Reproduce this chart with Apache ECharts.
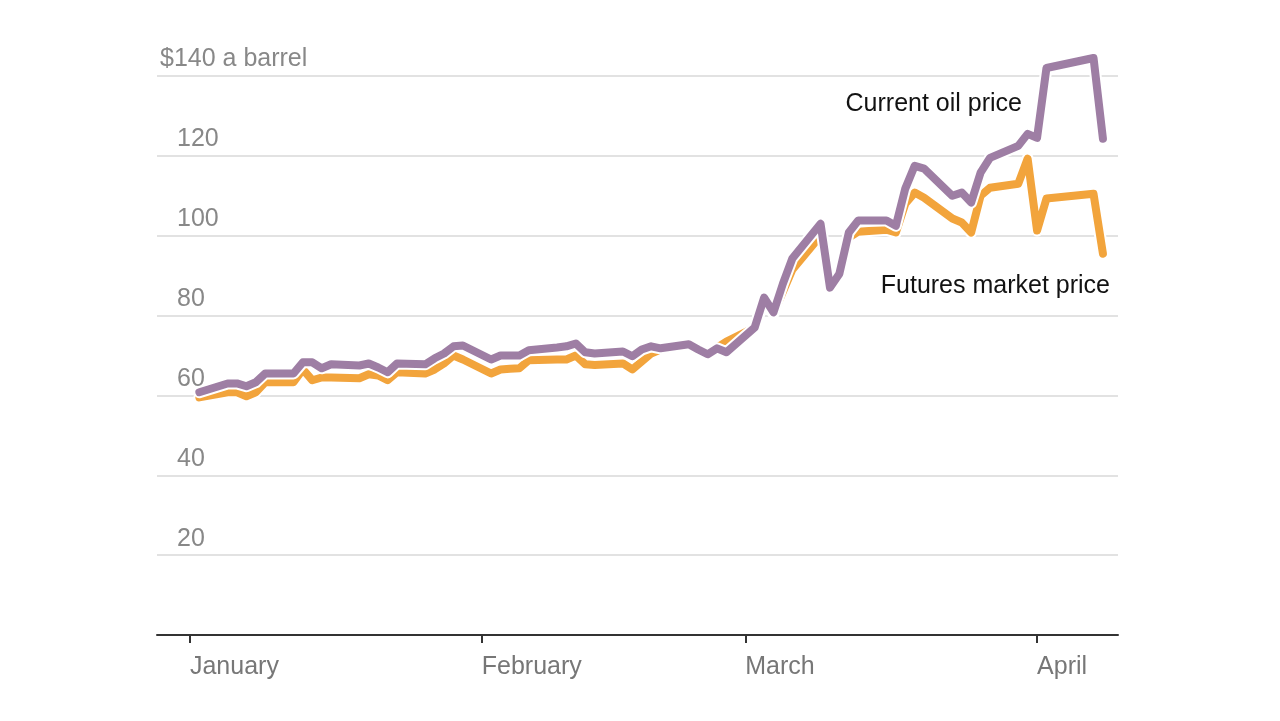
<!DOCTYPE html>
<html><head><meta charset="utf-8">
<script src="https://cdn.jsdelivr.net/npm/echarts@6/dist/echarts.min.js"></script>
<style>html,body{margin:0;padding:0;background:#fff}#c{width:1280px;height:721px}</style>
</head><body><div id="c"></div>
<script>
const currentDates = ['2026-01-02','2026-01-05','2026-01-06','2026-01-07','2026-01-08','2026-01-09','2026-01-12','2026-01-13','2026-01-14','2026-01-15','2026-01-16','2026-01-19','2026-01-20','2026-01-21','2026-01-22','2026-01-23','2026-01-26','2026-01-27','2026-01-28','2026-01-29','2026-01-30','2026-02-02','2026-02-03','2026-02-04','2026-02-05','2026-02-06','2026-02-09','2026-02-10','2026-02-11','2026-02-12','2026-02-13','2026-02-16','2026-02-17','2026-02-18','2026-02-19','2026-02-20','2026-02-23','2026-02-24','2026-02-25','2026-02-26','2026-02-27','2026-03-02','2026-03-03','2026-03-04','2026-03-05','2026-03-06','2026-03-09','2026-03-10','2026-03-11','2026-03-12','2026-03-13','2026-03-16','2026-03-17','2026-03-18','2026-03-19','2026-03-20','2026-03-23','2026-03-24','2026-03-25','2026-03-26','2026-03-27','2026-03-30','2026-03-31','2026-04-01','2026-04-02','2026-04-07','2026-04-08'];
const currentValues = [60.8,63,63,62.3,63.3,65.5,65.5,68.3,68.3,66.8,67.8,67.5,68,67,65.8,68,67.8,69.3,70.5,72.3,72.5,69,70,70,70,71.3,72,72.3,73,70.8,70.5,71,69.8,71.5,72.3,71.8,72.8,71.5,70.3,71.8,70.8,77,84.5,80.8,88,94.3,103,87,90.5,100.8,103.8,103.8,102.5,111.8,117.5,116.8,110,110.8,108.3,115.8,119.5,122.5,125.5,124.5,142,144.5,124.3];

const futuresDates = ['2026-01-02','2026-01-05','2026-01-06','2026-01-07','2026-01-08','2026-01-09','2026-01-12','2026-01-13','2026-01-14','2026-01-15','2026-01-16','2026-01-19','2026-01-20','2026-01-21','2026-01-22','2026-01-23','2026-01-26','2026-01-27','2026-01-28','2026-01-29','2026-01-30','2026-02-02','2026-02-03','2026-02-04','2026-02-05','2026-02-06','2026-02-09','2026-02-10','2026-02-11','2026-02-12','2026-02-13','2026-02-16','2026-02-17','2026-02-18','2026-02-19','2026-02-20','2026-02-23','2026-02-24','2026-02-25','2026-02-26','2026-02-27','2026-03-02','2026-03-03','2026-03-04','2026-03-05','2026-03-06','2026-03-09','2026-03-10','2026-03-11','2026-03-12','2026-03-13','2026-03-16','2026-03-17','2026-03-18','2026-03-19','2026-03-20','2026-03-23','2026-03-24','2026-03-25','2026-03-26','2026-03-27','2026-03-30','2026-03-31','2026-04-01','2026-04-02','2026-04-07','2026-04-08'];
const futuresValues = [59.5,60.8,60.8,59.8,60.8,63.3,63.3,66.5,63.8,64.5,64.5,64.3,65.3,65,63.8,65.8,65.5,66.5,68,70,69,65.5,66.5,66.7,66.8,68.8,69,69,70,67.8,67.6,68,66.5,68.5,70.5,71.5,72.5,71.5,70.3,72,73.5,77,84,80.5,86,91.5,100,87,90,99.5,101,101.5,100.8,108,110.8,109.5,104.3,103.3,100.8,110,112,113,119.3,101.3,109.3,110.5,95.5];

const monthTickDates = ['2026-01-01','2026-02-01','2026-03-01','2026-04-01'];
const monthNames = ['January','February','March','April'];
const yTopLabel = '$140 a barrel';

function ts(s) { const p = s.split('-').map(Number); return Date.UTC(p[0], p[1] - 1, p[2]); }
function pairs(d, v) { return d.map((x, i) => [ts(x), v[i]]); }
const monthTicks = monthTickDates.map(ts);
const DAY = 86400000;
const t0 = ts('2026-01-01');
const FONT = '"Liberation Sans", Arial, sans-serif';
const PURPLE = '#9e7ea4';
const ORANGE = '#f2a43c';

const chart = echarts.init(document.getElementById('c'));
chart.setOption({
  animation: false,
  backgroundColor: '#fff',
  grid: { left: 157, right: 162, top: 76, bottom: 86 },
  xAxis: {
    type: 'value',
    min: t0 - 3.5 * DAY,
    max: t0 + 98.6 * DAY,
    axisLine: { lineStyle: { color: '#333', width: 2 } },
    axisTick: { show: true, length: 8, customValues: monthTicks, lineStyle: { color: '#333', width: 2 } },
    axisLabel: {
      customValues: monthTicks, align: 'left', color: '#777', fontSize: 25, margin: 20, fontFamily: FONT,
      formatter: v => { const i = monthTicks.indexOf(+v); return i >= 0 ? monthNames[i] : ''; }
    },
    splitLine: { show: false }
  },
  yAxis: {
    type: 'value', min: 0, max: 140, interval: 20,
    axisLine: { show: false }, axisTick: { show: false },
    splitLine: { lineStyle: { color: '#e2e2e2', width: 2 } },
    axisLabel: {
      inside: true, margin: 3, verticalAlign: 'bottom', color: '#888', fontSize: 25, fontFamily: FONT,
      formatter: v => v === 140 ? '{t|' + yTopLabel + '}' : (v === 0 ? '' : '{n|' + v + '}'),
      rich: {
        t: { color: '#888', fontSize: 25, fontFamily: FONT, padding: [0, 0, 4, 0] },
        n: { color: '#888', fontSize: 25, fontFamily: FONT, padding: [0, 0, 4, 17] }
      }
    }
  },
  series: [
    { type: 'line', data: pairs(futuresDates, futuresValues), showSymbol: false, silent: true, z: 1, clip: false,
      lineStyle: { color: '#fff', width: 12, join: 'round', cap: 'round' } },
    { type: 'line', data: pairs(futuresDates, futuresValues), showSymbol: false, z: 2, clip: false,
      lineStyle: { color: ORANGE, width: 8, join: 'round', cap: 'round' } },
    { type: 'line', data: pairs(currentDates, currentValues), showSymbol: false, silent: true, z: 3, clip: false,
      lineStyle: { color: '#fff', width: 12, join: 'round', cap: 'round' } },
    { type: 'line', data: pairs(currentDates, currentValues), showSymbol: false, z: 4, clip: false,
      lineStyle: { color: PURPLE, width: 8, join: 'round', cap: 'round' } }
  ],
  graphic: [
    { type: 'text', right: 258, top: 92, style: { text: 'Current oil price', fill: '#121212', fontSize: 25, fontFamily: FONT } },
    { type: 'text', right: 170, top: 274, style: { text: 'Futures market price', fill: '#121212', fontSize: 25, fontFamily: FONT } }
  ]
});
</script></body></html>
